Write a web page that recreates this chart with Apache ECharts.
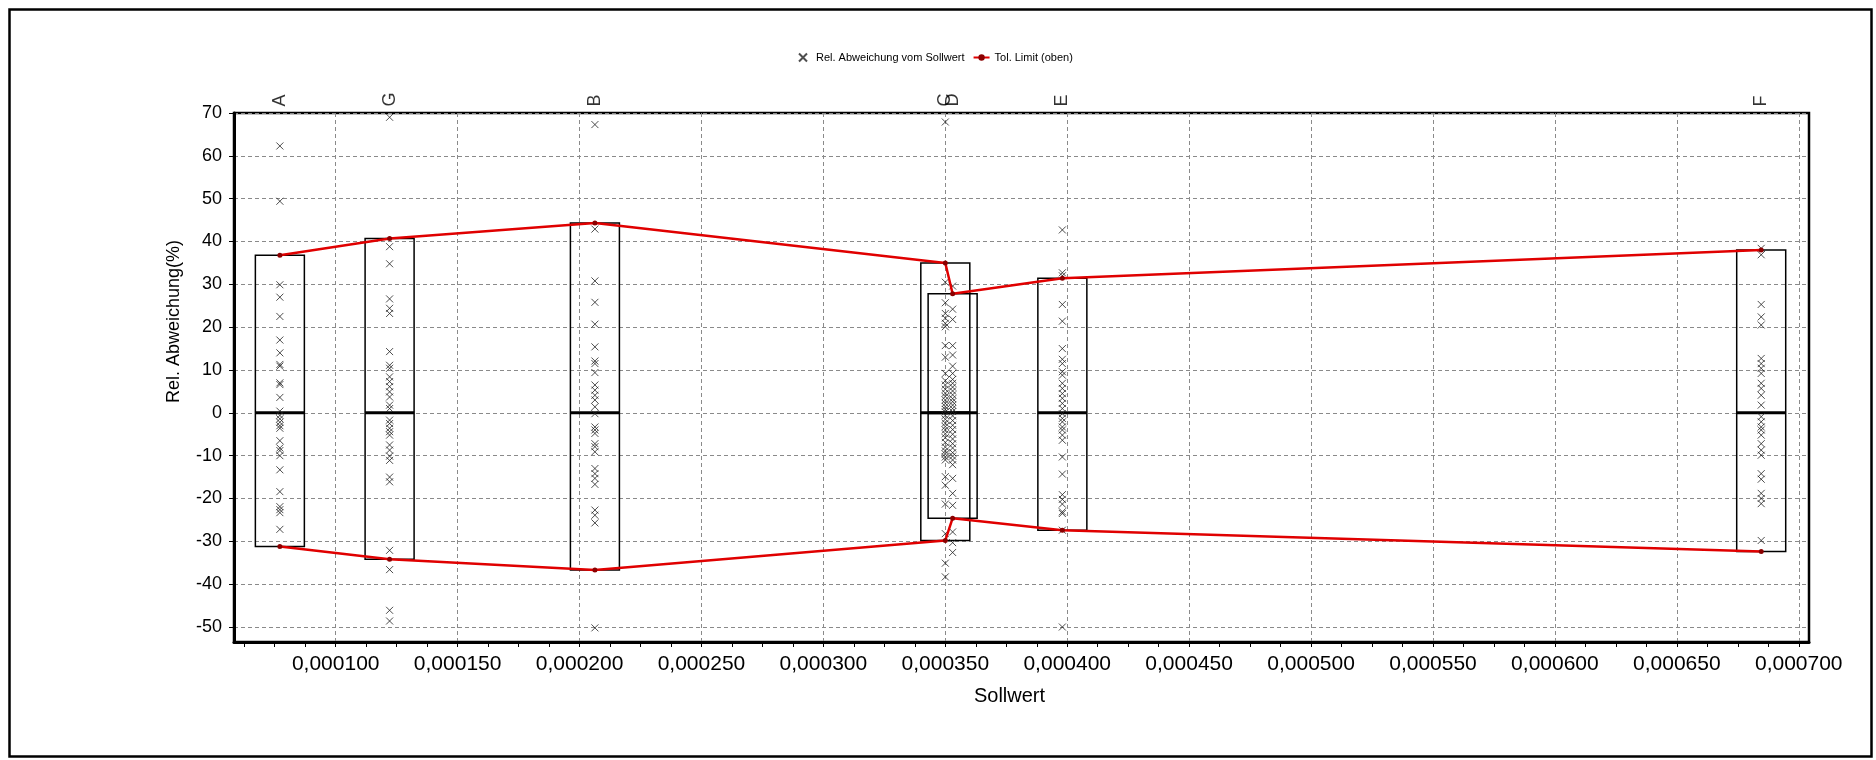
<!DOCTYPE html>
<html><head><meta charset="utf-8">
<script src="https://cdn.jsdelivr.net/npm/echarts@6/dist/echarts.min.js"></script>
<style>html,body{margin:0;padding:0;background:#fff}#c{width:1876px;height:760px}</style>
</head><body><div id="c"></div>
<script>
const categories = ['A', 'G', 'B', 'C', 'D', 'E', 'F'];
const sollwerte = [0.0000771, 0.0001221, 0.0002063, 0.000350, 0.000353, 0.000398, 0.0006846];
const tolUpper = [36.8, 40.7, 44.3, 35.0, 27.8, 31.4, 38.0];
const tolLower = [-31.2, -34.2, -36.7, -29.8, -24.6, -27.4, -32.4];
const medians = [0, 0, 0, 0, 0, 0, 0];
const devA = [62.3, 49.4, 29.9, 27.0, 22.5, 17.0, 14.0, 11.3, 10.9, 7.0, 6.6, 3.6, 0.4, -0.6, -1.4, -2.2, -3.0, -3.6, -6.5, -8.2, -8.8, -10.0, -13.3, -18.4, -21.9, -22.6, -23.3, -27.2];
const devG = [69.0, 38.8, 34.8, 26.6, 24.4, 23.2, 14.3, 11.1, 10.4, 8.4, 7.3, 6.1, 4.9, 3.7, 1.8, 1.0, -1.7, -2.5, -3.6, -4.4, -5.2, -7.5, -8.7, -10.1, -11.1, -15.0, -16.1, -32.1, -36.6, -46.1, -48.6];
const devB = [67.3, 42.9, 30.8, 25.8, 20.7, 15.4, 12.1, 11.5, 9.4, 6.5, 5.3, 4.1, 3.0, 1.4, -0.2, -3.3, -4.0, -4.8, -7.2, -7.9, -9.1, -13.0, -14.2, -15.3, -16.7, -22.7, -23.9, -25.7, -50.2];
const devC = [67.9, 30.5, 25.7, 23.2, 22.1, 20.9, 20.1, 15.7, 13.0, 9.2, 7.5, 6.5, 5.5, 4.6, 3.8, 3.0, 2.2, 1.5, 0.8, 0.2, -0.6, -1.5, -2.4, -3.2, -4.0, -4.9, -5.8, -6.9, -8.0, -8.9, -9.6, -10.3, -11.0, -14.9, -16.9, -21.3, -28.2, -35.1, -38.3];
const devD = [29.6, 24.2, 21.8, 15.7, 13.5, 10.9, 9.2, 7.8, 6.9, 6.0, 5.1, 4.2, 3.3, 2.6, 1.8, 1.0, 0.3, -0.7, -1.8, -2.9, -3.9, -5.0, -6.1, -7.2, -8.2, -9.3, -10.1, -11.0, -12.1, -15.3, -18.8, -21.6, -27.8, -30.3, -32.6];
const devE = [42.7, 32.7, 32.0, 25.3, 21.4, 15.0, 12.5, 11.5, 9.6, 8.8, 6.9, 5.7, 4.5, 3.4, 2.2, 1.0, -0.2, -1.3, -2.1, -3.3, -4.0, -5.2, -6.4, -10.3, -14.3, -19.1, -20.2, -21.3, -23.1, -23.5, -27.4, -50.0];
const devF = [38.4, 36.9, 25.3, 22.4, 20.5, 12.7, 11.5, 10.4, 9.2, 6.9, 5.7, 4.1, 1.8, -0.9, -2.1, -3.3, -4.0, -5.2, -7.2, -8.7, -9.9, -14.2, -15.5, -18.8, -20.0, -21.2, -29.8];
const deviations = [devA, devG, devB, devC, devD, devE, devF];

const xTicks = [0.0001, 0.00015, 0.0002, 0.00025, 0.0003, 0.00035, 0.0004, 0.00045, 0.0005, 0.00055, 0.0006, 0.00065, 0.0007];
const yTicks = [-50, -40, -30, -20, -10, 0, 10, 20, 30, 40, 50, 60, 70];
const xMin = 0.00005829, xMax = 0.0007042;
const yMin = -53.5, yMax = 70;

// minor ticks: 4 sub-intervals per major step, within the axis extent
const xMinorTicks = [];
const xStep = xTicks[1] - xTicks[0];
for (let k = -4; k < (xTicks.length - 1) * 4 + 1; k++) {
  const v = xTicks[0] + k * xStep / 4;
  if (v > xMin && v < xMax && k % 4 !== 0) xMinorTicks.push(v);
}

const scatterData = [];
deviations.forEach((arr, i) => arr.forEach(v => scatterData.push([sollwerte[i], v])));
const boxData = sollwerte.map((x, i) => [x, tolLower[i], tolUpper[i], medians[i]]);
const upperData = sollwerte.map((x, i) => [x, tolUpper[i]]);
const lowerData = sollwerte.map((x, i) => [x, tolLower[i]]);
const labelData = sollwerte.map(x => [x, yMax]);

const crossPath = 'path://M0,0L10,10M10,0L0,10';
const gridDash = { color: '#8a8a8a', width: 1, type: [4, 3] };
const font = 'Arial, Liberation Sans';

const chart = echarts.init(document.getElementById('c'), null, { renderer: 'canvas' });
chart.setOption({
  animation: false,
  backgroundColor: '#fff',
  graphic: [{
    type: 'rect', left: 7, top: 7, shape: { width: 1862, height: 747 },
    style: { fill: 'none', stroke: '#000', lineWidth: 2.5 }, silent: true, z: 100
  }],
  legend: {
    left: 793, top: 47, itemGap: 8, itemWidth: 16, itemHeight: 8,
    textStyle: { fontSize: 11, color: '#000', fontFamily: font },
    data: [{ name: 'Rel. Abweichung vom Sollwert' }, { name: 'Tol. Limit (oben)' }]
  },
  grid: {
    left: 234, top: 113, right: 67, bottom: 118,
    show: true, borderColor: '#000', borderWidth: 2.5, backgroundColor: 'transparent'
  },
  xAxis: [{
    type: 'value', min: xMin, max: xMax,
    name: 'Sollwert', nameLocation: 'middle', nameGap: 44,
    nameTextStyle: { fontSize: 20, color: '#000', fontFamily: font, padding: [0, 24, 0, 0] },
    axisLine: { show: true, onZero: false, lineStyle: { color: '#000', width: 3 } },
    axisTick: { show: true, length: 5, customValues: xTicks, lineStyle: { color: '#000' } },
    axisLabel: {
      fontSize: 21, color: '#000', margin: 12, fontFamily: font,
      customValues: xTicks,
      formatter: v => v.toFixed(6).replace('.', ',')
    },
    splitLine: { show: true, lineStyle: gridDash }
  }, {
    type: 'value', min: xMin, max: xMax, position: 'bottom',
    axisLine: { show: false, onZero: false },
    axisTick: { show: true, length: 5, customValues: xMinorTicks, lineStyle: { color: '#000' } },
    axisLabel: { show: false },
    splitLine: { show: false }
  }],
  yAxis: {
    type: 'value', min: yMin, max: yMax,
    name: 'Rel. Abweichung(%)', nameLocation: 'middle', nameGap: 51,
    nameTextStyle: { fontSize: 18, color: '#000', fontFamily: font, padding: [0, 0, 0, 112] },
    axisLine: { show: true, onZero: false, lineStyle: { color: '#000', width: 3 } },
    axisTick: { show: true, length: 5, customValues: yTicks, lineStyle: { color: '#000' } },
    axisLabel: {
      fontSize: 18, color: '#000', margin: 12, fontFamily: font,
      customValues: yTicks
    },
    splitLine: { show: true, lineStyle: gridDash }
  },
  series: [
    {
      type: 'custom', name: 'boxes', z: 2, silent: true,
      data: boxData,
      renderItem: (params, api) => {
        const x = api.value(0);
        const pHi = api.coord([x, api.value(2)]);
        const pLo = api.coord([x, api.value(1)]);
        const pMed = api.coord([x, api.value(3)]);
        const hw = 24.5;
        return {
          type: 'group',
          children: [
            { type: 'rect', shape: { x: pHi[0] - hw, y: pHi[1], width: hw * 2, height: pLo[1] - pHi[1] },
              style: { fill: 'none', stroke: '#000', lineWidth: 1.5 } },
            { type: 'line', shape: { x1: pMed[0] - hw, y1: pMed[1], x2: pMed[0] + hw, y2: pMed[1] },
              style: { stroke: '#000', lineWidth: 3 } }
          ]
        };
      }
    },
    {
      type: 'scatter', name: 'Rel. Abweichung vom Sollwert', z: 3,
      symbol: crossPath, symbolSize: 7,
      itemStyle: { color: 'transparent', borderColor: '#222', borderWidth: 1 },
      data: scatterData
    },
    {
      type: 'line', name: 'Tol. Limit (oben)', z: 4,
      symbol: 'circle', symbolSize: 5, showSymbol: true,
      lineStyle: { color: '#e00000', width: 2.5 },
      itemStyle: { color: '#8b0000', borderWidth: 0 },
      data: upperData
    },
    {
      type: 'line', name: 'Tol. Limit (unten)', z: 4,
      symbol: 'circle', symbolSize: 5, showSymbol: true,
      lineStyle: { color: '#e00000', width: 2.5 },
      itemStyle: { color: '#8b0000', borderWidth: 0 },
      data: lowerData
    },
    {
      type: 'scatter', name: 'labels', z: 5, clip: false, silent: true,
      symbolSize: 1, itemStyle: { color: 'transparent' },
      label: {
        show: true, position: 'top', distance: 6, rotate: 90,
        align: 'left', verticalAlign: 'middle',
        fontSize: 18, color: '#000', fontFamily: font,
        formatter: p => categories[p.dataIndex]
      },
      data: labelData
    }
  ]
});
</script>
</body></html>
